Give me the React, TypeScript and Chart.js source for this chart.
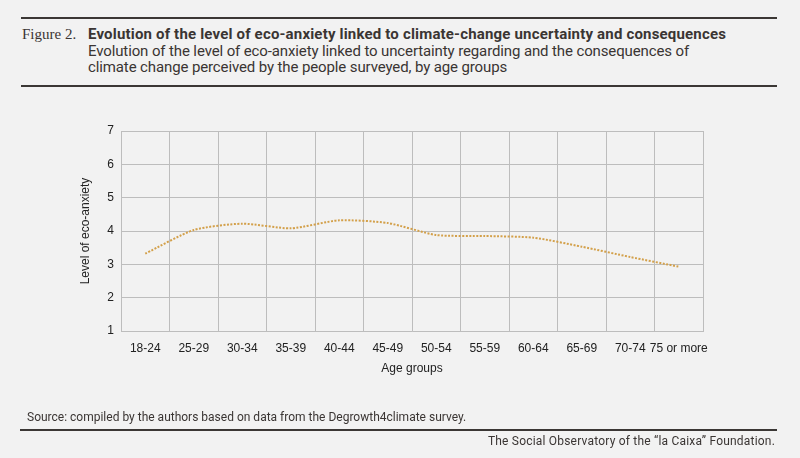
import { useEffect, useRef } from 'react';
import { Chart, registerables } from 'chart.js';

Chart.register(...registerables);

const ageGroups = [
  '18-24', '25-29', '30-34', '35-39', '40-44', '45-49',
  '50-54', '55-59', '60-64', '65-69', '70-74', '75 or more',
];
const ecoAnxiety = [3.32, 4.03, 4.22, 4.08, 4.32, 4.24, 3.88, 3.85, 3.8, 3.53, 3.22, 2.93];

const textColor = '#3a3533';
const gridColor = '#bdbdbd';
const lineColor = '#d3a04a';

export default function App() {
  const canvasRef = useRef<HTMLCanvasElement>(null);
  const chartRef = useRef<Chart | null>(null);

  useEffect(() => {
    document.body.style.margin = '0';
    if (!canvasRef.current) return;
    if (chartRef.current) chartRef.current.destroy();

    chartRef.current = new Chart(canvasRef.current, {
      type: 'line',
      data: {
        labels: ageGroups,
        datasets: [
          {
            data: ecoAnxiety,
            borderColor: lineColor,
            borderWidth: 2,
            borderDash: [2, 1.5],
            tension: 0.22,
            pointRadius: 0,
            fill: false,
          },
        ],
      },
      options: {
        animation: false,
        responsive: false,
        layout: { padding: { left: 75, right: 97, top: 131, bottom: 78 } },
        plugins: { legend: { display: false }, tooltip: { enabled: false } },
        scales: {
          x: {
            offset: true,
            grid: { offset: true, color: gridColor, drawTicks: false },
            border: { color: gridColor },
            ticks: {
              padding: 10,
              color: '#222',
              maxRotation: 0,
              autoSkip: false,
              font: { family: 'Liberation Sans', size: 12 },
            },
            title: {
              display: true,
              text: 'Age groups',
              color: '#222',
              padding: { top: 4, bottom: 4 },
              font: { family: 'Liberation Sans', size: 12 },
            },
            afterFit: (scale) => {
              scale.height = 49;
            },
          },
          y: {
            min: 1,
            max: 7,
            grid: { color: gridColor, drawTicks: false },
            border: { color: gridColor },
            ticks: {
              stepSize: 1,
              padding: 7,
              color: '#222',
              font: { family: 'Liberation Sans', size: 12 },
            },
            title: {
              display: true,
              text: 'Level of eco-anxiety',
              color: '#222',
              padding: { top: 3, bottom: 4 },
              font: { family: 'Liberation Sans', size: 12 },
            },
            afterFit: (scale) => {
              scale.width = 46;
            },
          },
        },
      },
    });

    return () => {
      if (chartRef.current) {
        chartRef.current.destroy();
        chartRef.current = null;
      }
    };
  }, []);

  const rule = (top: number, left: number, right: number) => (
    <div
      style={{
        position: 'absolute',
        top,
        left,
        width: right - left,
        height: 2,
        background: '#3b3735',
      }}
    />
  );

  return (
    <div
      style={{
        position: 'relative',
        width: 800,
        height: 458,
        background: '#f2f2f2',
        overflow: 'hidden',
        color: textColor,
      }}
    >
      {rule(17, 21, 777)}
      <div
        style={{
          position: 'absolute',
          top: 26,
          left: 22,
          fontFamily: 'Liberation Serif',
          fontSize: 15,
          lineHeight: '16px',
        }}
      >
        Figure 2.
      </div>
      <div
        style={{
          position: 'absolute',
          top: 26,
          left: 88,
          fontFamily: 'Roboto',
          fontWeight: 700,
          fontSize: 15,
          lineHeight: '16px',
          whiteSpace: 'nowrap',
          letterSpacing: 0.18,
        }}
      >
        Evolution of the level of eco-anxiety linked to climate-change uncertainty and consequences
      </div>
      <div
        style={{
          position: 'absolute',
          top: 43,
          left: 88,
          fontFamily: 'Roboto',
          fontSize: 15,
          lineHeight: '16px',
          whiteSpace: 'nowrap',
          letterSpacing: -0.12,
        }}
      >
        Evolution of the level of eco-anxiety linked to uncertainty regarding and the consequences of
        <br />
        climate change perceived by the people surveyed, by age groups
      </div>
      {rule(85, 21, 777)}

      <canvas
        ref={canvasRef}
        width={800}
        height={458}
        style={{ position: 'absolute', top: 0, left: 0, width: 800, height: 458 }}
      />

      <div
        style={{
          position: 'absolute',
          top: 410,
          left: 27,
          fontFamily: 'Roboto',
          fontSize: 12,
          lineHeight: '14px',
          whiteSpace: 'nowrap',
        }}
      >
        Source: compiled by the authors based on data from the Degrowth4climate survey.
      </div>
      {rule(429, 20, 777)}
      <div
        style={{
          position: 'absolute',
          top: 434,
          right: 25,
          fontFamily: 'Roboto',
          fontSize: 12,
          lineHeight: '14px',
          whiteSpace: 'nowrap',
          letterSpacing: 0.2,
        }}
      >
        The Social Observatory of the “la Caixa” Foundation.
      </div>
    </div>
  );
}
